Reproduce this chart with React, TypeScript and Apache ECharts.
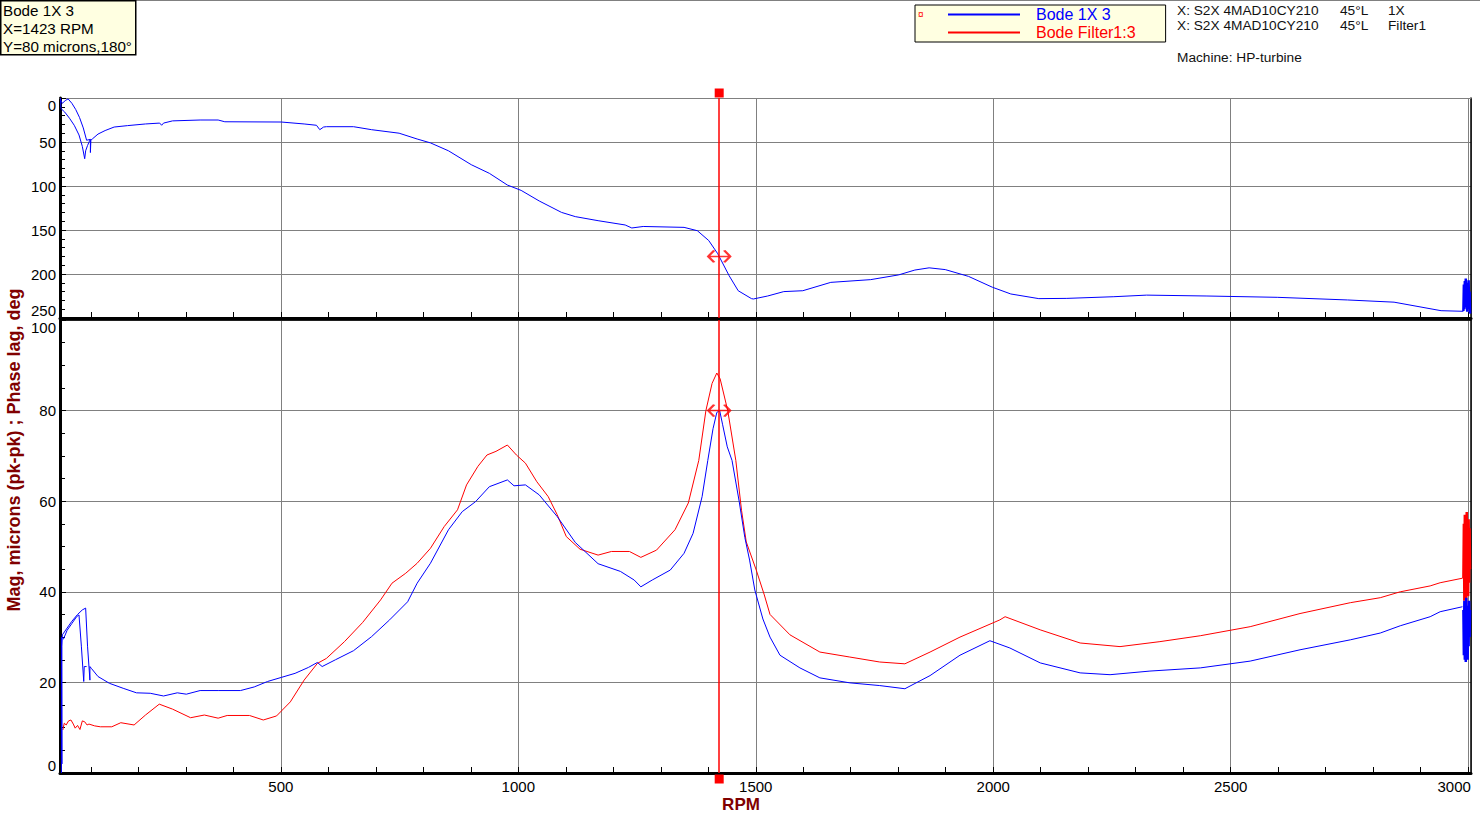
import React, { useEffect, useRef } from "react";
import * as echarts from "echarts";

// ---------- data ----------
const X_MIN = 35;
const X_MAX = 3006;
const CURSOR_RPM = 1423;
const CURSOR_MAG = 80;
const CURSOR_PHASE = 180;

const rpmMinorTicks = [100, 200, 300, 400, 500, 600, 700, 800, 900, 1000, 1100, 1200, 1300, 1400, 1500, 1600, 1700, 1800, 1900, 2000, 2100, 2200, 2300, 2400, 2500, 2600, 2700, 2800, 2900, 3000];
const rpmLabels = [500, 1000, 1500, 2000, 2500, 3000];

// Phase lag (deg), "Bode 1X 3"
const phaseMain: number[][] = [
  [36, 0], [37, 12], [45, 16], [55, 23], [65, 31], [75, 42], [82, 55], [87, 69], [89, 60], [93, 54], [97, 49], [99, 47], [99, 62], [100, 48],
  [103, 46.6], [115, 41], [130, 37], [149, 33], [177, 31.4], [215, 29.5], [245, 28.5], [249, 31], [253, 28.5], [272, 26], [330, 25], [368, 25],
  [382, 27], [501, 27.3], [549, 29.5], [575, 31], [582, 36], [590, 33], [596, 32.6], [653, 32.6], [691, 36], [749, 40], [787, 46.6], [815, 51],
  [853, 60], [901, 75.8], [939, 85.6], [977, 98.9], [1006, 105], [1044, 117], [1091, 130], [1120, 134.8], [1168, 139.4], [1225, 144.3],
  [1239, 147.7], [1263, 146], [1349, 147], [1377, 150.8], [1401, 162], [1420, 177], [1444, 202], [1463, 219], [1491, 228], [1495, 228.4],
  [1525, 225], [1559, 220], [1599, 219], [1658, 209.5], [1742, 206.4], [1801, 201], [1835, 195.5], [1865, 193], [1899, 195], [1948, 202.7],
  [1998, 215], [2037, 222.7], [2096, 228], [2155, 227.7], [2254, 225.8], [2323, 224], [2450, 225], [2598, 226.5], [2746, 229.5], [2844, 232],
  [2943, 241.7], [2990, 242.4],
];
const phaseLoop: number[][] = [
  [36, 2], [40, 6], [46, 3], [52, 1], [60, 6], [68, 13], [76, 22], [84, 34], [91, 48], [99, 47],
];
const phaseBlob: number[][] = [
  [2990, 242], [2991, 212], [2992, 240], [2993, 208], [2994, 236], [2995, 205], [2996, 238], [2997, 210], [2998, 243], [2999, 214],
  [3000, 237], [3001, 207], [3002, 240], [3003, 220], [3004, 245],
];

// Magnitude (microns pk-pk), "Bode 1X 3"
const magBlue: number[][] = [
  [38, 0], [38, 30], [39, 2], [39, 28], [40, 30.5], [50, 32], [60, 33.5], [72, 35], [82, 36], [89, 36.4], [93, 28], [98, 20.5], [98, 23.5],
  [101, 23.1], [115, 21.3], [139, 19.8], [168, 18.7], [196, 17.7], [225, 17.6], [253, 17], [282, 17.7], [301, 17.4], [330, 18.2], [368, 18.2],
  [415, 18.2], [444, 19], [472, 20.2], [501, 21.1], [530, 22], [558, 23.3], [577, 24.4], [587, 23.5], [615, 25], [653, 27], [691, 30.1],
  [729, 33.8], [767, 37.8], [787, 41.9], [815, 46.3], [853, 53.7], [882, 57.7], [910, 59.9], [939, 63.2], [977, 64.7], [991, 63.4],
  [1015, 63.6], [1044, 61.4], [1082, 56.6], [1120, 50.9], [1168, 46.2], [1215, 44.5], [1244, 42.6], [1258, 41.1], [1282, 42.6], [1320, 44.8],
  [1349, 48.5], [1368, 52.9], [1387, 61], [1399, 69], [1410, 76], [1418, 79.6], [1424, 80], [1430, 77], [1440, 72], [1450, 69], [1465, 60],
  [1477, 52], [1487, 47], [1498, 40.4], [1515, 34], [1530, 30], [1551, 26], [1593, 23.2], [1635, 21], [1698, 19.9], [1761, 19.3],
  [1814, 18.6], [1867, 21.5], [1930, 26], [1993, 29.2], [2035, 27.6], [2099, 24.3], [2183, 22.1], [2246, 21.7], [2330, 22.5], [2436, 23.2],
  [2541, 24.7], [2646, 27.2], [2752, 29.4], [2815, 30.9], [2857, 32.5], [2920, 34.5], [2941, 35.6], [2988, 36.7],
];
const magBlueLoop: number[][] = [
  [42, 29.5], [50, 31.5], [60, 33], [70, 34.5], [75, 34.9], [80, 28], [85, 20.2], [86, 23.5], [91, 23.5],
];
const magBlueBlob: number[][] = [
  [2990, 36], [2991, 26], [2992, 38], [2993, 25], [2994, 37], [2995, 24.5], [2996, 38.7], [2997, 27], [2998, 36], [2999, 25],
  [3000, 37], [3001, 28], [3002, 38], [3003, 30], [3004, 36],
];

// Magnitude (microns pk-pk), "Bode Filter1:3"
const magRed: number[][] = [
  [41, 9.5], [44, 11], [48, 10.6], [53, 11.5], [58, 11.7], [63, 10.8], [67, 9.9], [72, 10.5], [77, 9.6], [82, 11.5], [87, 11.3], [92, 10.6],
  [96, 10.8], [108, 10.4], [120, 10.2], [144, 10.2], [163, 11.1], [191, 10.6], [215, 12.8], [244, 15.2], [272, 14.1], [310, 12.2], [339, 12.8],
  [368, 12.1], [387, 12.7], [434, 12.7], [463, 11.7], [491, 12.6], [520, 15.7], [549, 20.5], [577, 24.2], [596, 25.3], [634, 29], [672, 33.2],
  [710, 38.2], [734, 41.9], [763, 44.1], [787, 46.3], [815, 49.6], [844, 54.4], [872, 58.1], [891, 63.6], [915, 67.7], [934, 70.2], [953, 71],
  [977, 72.4], [996, 70.2], [1015, 68.4], [1039, 64.3], [1063, 61], [1082, 57], [1101, 52.2], [1130, 49.4], [1168, 48.1], [1196, 48.9],
  [1234, 48.9], [1258, 47.6], [1291, 49.2], [1330, 53.7], [1358, 59.6], [1380, 69], [1395, 80], [1408, 86], [1418, 88.3], [1425, 87],
  [1441, 80], [1458, 69], [1470, 58], [1480, 51], [1501, 44.8], [1518, 39.3], [1530, 35], [1572, 30.5], [1635, 26.7], [1698, 25.6],
  [1761, 24.5], [1814, 24.1], [1867, 26.7], [1930, 30], [2014, 33.8], [2025, 34.5], [2099, 31.6], [2183, 28.7], [2267, 27.9], [2351, 29],
  [2436, 30.3], [2541, 32.3], [2646, 35.2], [2752, 37.6], [2815, 38.7], [2857, 40], [2920, 41.3], [2941, 42], [2988, 43],
];
const magRedBlob: number[][] = [
  [2990, 43], [2991, 55], [2992, 38], [2993, 57], [2994, 40], [2995, 56], [2996, 37], [2997, 57.6], [2998, 41], [2999, 55],
  [3000, 39], [3001, 56], [3002, 42], [3003, 54], [3004, 45],
];

const SERIES_1X = "Bode 1X 3";
const SERIES_F1 = "Bode Filter1:3";

// ---------- styling ----------
const FONT = 'Arial, "Liberation Sans", sans-serif';
const BLUE = "#0000FF";
const RED = "#FF0000";
const GREY = "#808080";
const MAROON = "#800000";
const CHEVRON = "path://M6,0 L0,6 L6,12 M0,6 L22,6 M16,0 L22,6 L16,12";

export default function App() {
  const ref = useRef<HTMLDivElement>(null);

  useEffect(() => {
    if (!ref.current) return;
    const chart = echarts.init(ref.current, null, { renderer: "svg" });

    const xBase = { type: "value", min: X_MIN, max: X_MAX };
    const tickAxis = (gridIndex: number, withLabels: boolean) => ({
      ...xBase,
      gridIndex,
      position: "bottom",
      axisLine: { show: true, onZero: false, lineStyle: { color: "#000", width: 3 } },
      axisTick: { show: true, inside: true, length: 6, customValues: rpmMinorTicks, lineStyle: { color: "#000", width: 1 } },
      axisLabel: withLabels
        ? {
            show: true,
            customValues: rpmLabels,
            margin: 6,
            fontSize: 15,
            color: "#000",
            fontFamily: FONT,
            formatter: (v: number) => (v % 500 !== 0 ? "" : v === 3000 ? "{r|3000}" : String(v)),
            rich: { r: { fontSize: 15, color: "#000", fontFamily: FONT, padding: [0, 28, 0, 0] } },
          }
        : { show: false },
      splitLine: { show: false },
    });
    const gridLineAxis = (gridIndex: number, borderColor: string, borderWidth: number) => ({
      ...xBase,
      gridIndex,
      position: "top",
      axisLine: { show: true, onZero: false, lineStyle: { color: borderColor, width: borderWidth } },
      axisTick: { show: false },
      axisLabel: { show: false },
      splitLine: { show: true, lineStyle: { color: GREY, width: 1 } },
    });

    const leftY = (gridIndex: number, inverse: boolean, max: number, interval: number, minorSplit: number) => ({
      type: "value",
      gridIndex,
      position: "left",
      inverse,
      min: 0,
      max,
      interval,
      axisLine: { show: true, onZero: false, lineStyle: { color: "#000", width: 3 } },
      axisTick: { show: true, inside: true, length: 6, lineStyle: { color: "#000", width: 1 } },
      minorTick: { show: true, splitNumber: minorSplit, length: 5, lineStyle: { color: "#000", width: 1 } },
      axisLabel: {
        fontSize: 15,
        color: "#000",
        fontFamily: FONT,
        margin: 4,
        verticalAlignMinLabel: inverse ? "top" : "bottom",
        verticalAlignMaxLabel: inverse ? "bottom" : "top",
      },
      splitLine: { show: true, lineStyle: { color: GREY, width: 1 } },
    });
    const rightY = (gridIndex: number, inverse: boolean, max: number) => ({
      type: "value",
      gridIndex,
      position: "right",
      inverse,
      min: 0,
      max,
      axisLine: { show: true, onZero: false, lineStyle: { color: "#000", width: 1.5 } },
      axisTick: { show: false },
      axisLabel: { show: false },
      splitLine: { show: false },
    });

    const lineBase = (name: string, color: string, data: number[][], xAxisIndex: number, yAxisIndex: number, width = 1) => ({
      type: "line",
      name,
      data,
      xAxisIndex,
      yAxisIndex,
      symbol: "none",
      showSymbol: false,
      clip: false,
      lineStyle: { color, width },
      itemStyle: { color },
      emphasis: { disabled: true },
    });

    const cursorLine = {
      silent: true,
      symbol: "none",
      label: { show: false },
      lineStyle: { color: RED, width: 1.5, type: "solid" },
      data: [{ xAxis: CURSOR_RPM }],
    };
    const cursorSquare = (offsetY: number) => ({
      silent: true,
      symbol: "rect",
      symbolSize: 9,
      label: { show: false },
      itemStyle: { color: RED },
      data: [{ coord: [CURSOR_RPM, 0], symbolOffset: [0, offsetY] }],
    });
    const chevron = (xAxisIndex: number, yAxisIndex: number, value: number) => ({
      type: "scatter",
      name: "cursor",
      xAxisIndex,
      yAxisIndex,
      data: [[CURSOR_RPM, value]],
      symbol: CHEVRON,
      symbolSize: [22, 12],
      itemStyle: { color: "rgba(0,0,0,0)", borderColor: RED, borderWidth: 2 },
      z: 10,
      silent: true,
    });

    const option: any = {
      animation: false,
      backgroundColor: "#fff",
      textStyle: { fontFamily: FONT },
      grid: [
        { left: 60, top: 98, width: 1411, height: 220 },
        { left: 60, top: 320, width: 1411, height: 453 },
      ],
      xAxis: [tickAxis(0, false), gridLineAxis(0, GREY, 1), tickAxis(1, true), gridLineAxis(1, "#000", 1.5)],
      yAxis: [leftY(0, true, 250, 50, 5), rightY(0, true, 250), leftY(1, false, 100, 20, 4), rightY(1, false, 100)],
      legend: {
        show: true,
        left: 915,
        top: 5,
        orient: "vertical",
        icon: "rect",
        itemWidth: 72,
        itemHeight: 2,
        itemGap: 1,
        padding: [1, 30, 1, 33],
        backgroundColor: "#FFFFE1",
        borderColor: "#000",
        borderWidth: 1,
        selectedMode: false,
        textStyle: { fontSize: 16, fontFamily: FONT, lineHeight: 17, padding: [0, 0, 0, 11] },
        data: [
          { name: SERIES_1X, textStyle: { color: BLUE } },
          { name: SERIES_F1, textStyle: { color: RED } },
        ],
      },
      series: [
        { ...lineBase(SERIES_1X, BLUE, phaseMain, 0, 0), markLine: cursorLine, markPoint: cursorSquare(-5) },
        lineBase("phase loop", BLUE, phaseLoop, 0, 0),
        lineBase("phase end", BLUE, phaseBlob, 0, 0, 2.5),
        chevron(0, 0, CURSOR_PHASE),
        lineBase(SERIES_F1, RED, magRed, 2, 2),
        lineBase("filter end", RED, magRedBlob, 2, 2, 2.5),
        { ...lineBase(SERIES_1X, BLUE, magBlue, 2, 2), markLine: cursorLine, markPoint: cursorSquare(6) },
        lineBase("mag loop", BLUE, magBlueLoop, 2, 2),
        lineBase("mag end", BLUE, magBlueBlob, 2, 2, 2.5),
        chevron(2, 2, CURSOR_MAG),
      ],
      graphic: [
        { type: "line", shape: { x1: 0, y1: 0.5, x2: 1480, y2: 0.5 }, style: { stroke: GREY, lineWidth: 1 }, silent: true },
        {
          type: "rect",
          shape: { x: 0.75, y: 0.75, width: 135, height: 54 },
          style: { fill: "#FFFFE1", stroke: "#000", lineWidth: 1.5 },
          silent: true,
        },
        {
          type: "text",
          x: 3,
          y: 1,
          style: {
            text: `${SERIES_1X}\nX=${CURSOR_RPM} RPM\nY=${CURSOR_MAG} microns,${CURSOR_PHASE}°`,
            font: `15.2px ${FONT}`,
            fill: "#000",
            lineHeight: 18,
          },
          silent: true,
        },
        { type: "text", x: 918, y: 9, z: 100, style: { text: "¤", font: `10px ${FONT}`, fill: RED }, silent: true },
        { type: "text", x: 1177, y: 3, style: { text: "X: S2X 4MAD10CY210", font: `13.7px ${FONT}`, fill: "#111" }, silent: true },
        { type: "text", x: 1340, y: 3, style: { text: "45°L", font: `13.7px ${FONT}`, fill: "#111" }, silent: true },
        { type: "text", x: 1388, y: 3, style: { text: "1X", font: `13.7px ${FONT}`, fill: "#111" }, silent: true },
        { type: "text", x: 1177, y: 18, style: { text: "X: S2X 4MAD10CY210", font: `13.7px ${FONT}`, fill: "#111" }, silent: true },
        { type: "text", x: 1340, y: 18, style: { text: "45°L", font: `13.7px ${FONT}`, fill: "#111" }, silent: true },
        { type: "text", x: 1388, y: 18, style: { text: "Filter1", font: `13.7px ${FONT}`, fill: "#111" }, silent: true },
        { type: "text", x: 1177, y: 50, style: { text: "Machine: HP-turbine", font: `13.7px ${FONT}`, fill: "#111" }, silent: true },
        {
          type: "text",
          x: 14,
          y: 450,
          rotation: Math.PI / 2,
          style: {
            text: "Mag, microns (pk-pk) ; Phase lag, deg",
            font: `bold 18px ${FONT}`,
            fill: MAROON,
            align: "center",
            verticalAlign: "middle",
          },
          silent: true,
        },
        {
          type: "text",
          x: 741,
          y: 804,
          style: { text: "RPM", font: `bold 17px ${FONT}`, fill: MAROON, align: "center", verticalAlign: "middle" },
          silent: true,
        },
      ],
    };

    chart.setOption(option);
    return () => chart.dispose();
  }, []);

  return (
    <div
      ref={ref}
      style={{ position: "fixed", left: 0, top: 0, width: 1480, height: 817, background: "#fff" }}
    />
  );
}
